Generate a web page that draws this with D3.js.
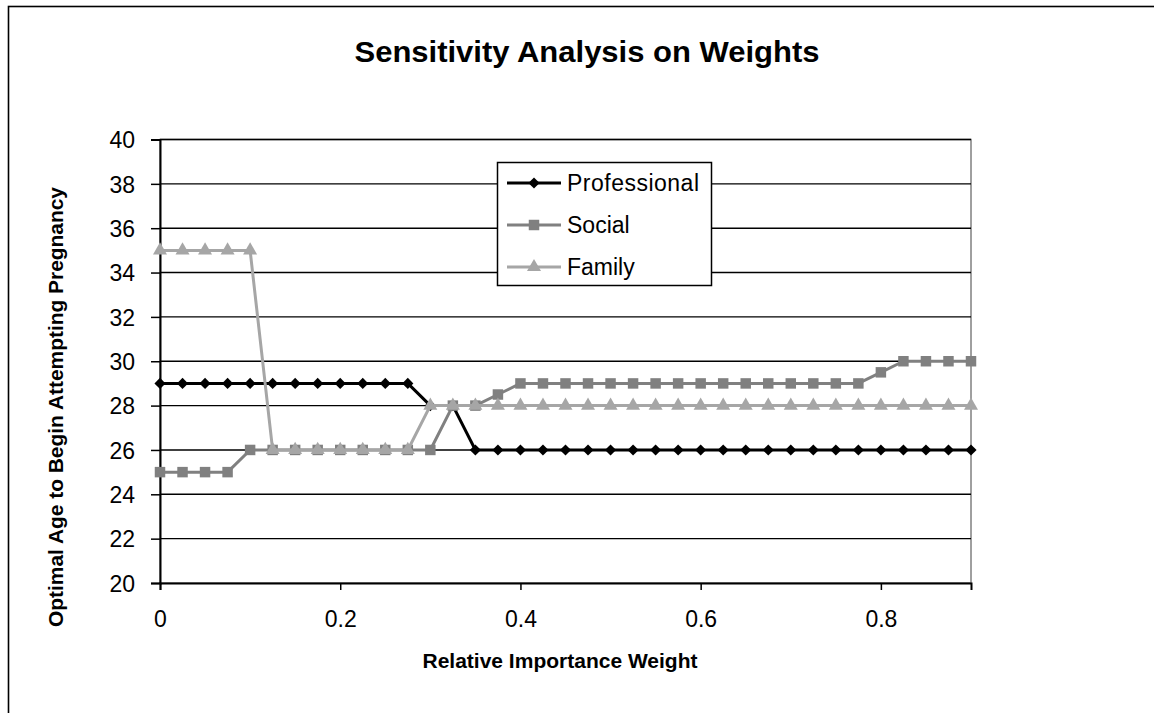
<!DOCTYPE html>
<html>
<head>
<meta charset="utf-8">
<title>Sensitivity Analysis on Weights</title>
<script src="https://cdnjs.cloudflare.com/ajax/libs/d3/7.8.5/d3.min.js"></script>
<style>
  body { margin: 0; background: #fff; }
  text { font-family: "Liberation Sans", Arial, sans-serif; fill: #000; }
</style>
</head>
<body>
<script>
// relative importance weight (x values)
var weights = [0, 0.025, 0.05, 0.075, 0.1, 0.125, 0.15, 0.175, 0.2, 0.225,
  0.25, 0.275, 0.3, 0.325, 0.35, 0.375, 0.4, 0.425, 0.45, 0.475,
  0.5, 0.525, 0.55, 0.575, 0.6, 0.625, 0.65, 0.675, 0.7, 0.725,
  0.75, 0.775, 0.8, 0.825, 0.85, 0.875, 0.9];

var professional = [29, 29, 29, 29, 29, 29, 29, 29, 29, 29,
  29, 29, 28, 28, 26, 26, 26, 26, 26, 26,
  26, 26, 26, 26, 26, 26, 26, 26, 26, 26,
  26, 26, 26, 26, 26, 26, 26];

var social = [25, 25, 25, 25, 26, 26, 26, 26, 26, 26,
  26, 26, 26, 28, 28, 28.5, 29, 29, 29, 29,
  29, 29, 29, 29, 29, 29, 29, 29, 29, 29,
  29, 29, 29.5, 30, 30, 30, 30];

var family = [35, 35, 35, 35, 35, 26, 26, 26, 26, 26,
  26, 26, 28, 28, 28, 28, 28, 28, 28, 28,
  28, 28, 28, 28, 28, 28, 28, 28, 28, 28,
  28, 28, 28, 28, 28, 28, 28];

var xTicks = [0, 0.2, 0.4, 0.6, 0.8];
var yTicks = [20, 22, 24, 26, 28, 30, 32, 34, 36, 38, 40];

// excel style diamond: a square turned 45 degrees
var diamond = {
  draw: function(ctx, size) {
    var r = Math.sqrt(size / 2);
    ctx.moveTo(0, -r);
    ctx.lineTo(r, 0);
    ctx.lineTo(0, r);
    ctx.lineTo(-r, 0);
    ctx.closePath();
  }
};

var series = [
  { name: "Professional", values: professional, color: "#000000", symbol: diamond, size: 62 },
  { name: "Social", values: social, color: "#808080", symbol: d3.symbolSquare, size: 110 },
  { name: "Family", values: family, color: "#a6a6a6", symbol: d3.symbolTriangle, size: 85 }
];

var W = 1154, H = 713;
var plotL = 160, plotR = 971, plotT = 139.5, plotB = 583;

var svg = d3.select("body").append("svg")
    .attr("width", W)
    .attr("height", H);

// chart area frame
svg.append("rect")
    .attr("x", 8.5).attr("y", 6.5)
    .attr("width", W + 20).attr("height", H + 20)
    .attr("fill", "#fff")
    .attr("stroke", "#000")
    .attr("stroke-width", 1.6);

var x = d3.scaleLinear().domain([0, 0.9]).range([plotL, plotR]);
var y = d3.scaleLinear().domain([20, 40]).range([plotB, plotT]);

// plot area border
svg.append("rect")
    .attr("x", plotL).attr("y", plotT)
    .attr("width", plotR - plotL).attr("height", plotB - plotT)
    .attr("fill", "none")
    .attr("stroke", "#808080")
    .attr("stroke-width", 1.5);

// gridlines
svg.append("g")
    .selectAll("line")
    .data(yTicks.filter(function(d) { return d > 20; }))
    .enter().append("line")
    .attr("x1", plotL).attr("x2", plotR)
    .attr("y1", function(d) { return y(d); })
    .attr("y2", function(d) { return y(d); })
    .attr("stroke", "#000")
    .attr("stroke-width", 1.4);

// axes
var yAxis = svg.append("g")
    .attr("transform", "translate(" + plotL + ",0)")
    .call(d3.axisLeft(y).tickValues(yTicks).tickSize(9).tickPadding(16).tickFormat(d3.format("d")));

var xAxis = svg.append("g")
    .attr("transform", "translate(0," + plotB + ")")
    .call(d3.axisBottom(x).tickValues(xTicks).tickSize(7).tickPadding(21).tickFormat(function(d) { return d === 0 ? "0" : d3.format(".1f")(d); }));

[yAxis, xAxis].forEach(function(a) {
  a.select(".domain").attr("stroke", "#000").attr("stroke-width", 2);
  a.selectAll(".tick line").attr("stroke", "#000").attr("stroke-width", 1.5);
  a.selectAll(".tick text")
      .style("font-family", "'Liberation Sans', Arial, sans-serif")
      .style("font-size", "23px")
      .attr("fill", "#000");
});
yAxis.selectAll(".tick text").attr("dy", "0.36em");

// series lines and markers
var line = d3.line()
    .x(function(d, i) { return x(weights[i]); })
    .y(function(d) { return y(d); });

series.forEach(function(s) {
  svg.append("path")
      .datum(s.values)
      .attr("d", line)
      .attr("fill", "none")
      .attr("stroke", s.color)
      .attr("stroke-width", 3)
      .attr("stroke-linejoin", "round");

  svg.append("g")
      .selectAll("path")
      .data(s.values)
      .enter().append("path")
      .attr("transform", function(d, i) { return "translate(" + x(weights[i]) + "," + y(d) + ")"; })
      .attr("d", d3.symbol().type(s.symbol).size(s.size))
      .attr("fill", s.color);
});

// legend
var legend = svg.append("g");
legend.append("rect")
    .attr("x", 497.5).attr("y", 162.5)
    .attr("width", 214).attr("height", 123)
    .attr("fill", "#fff")
    .attr("stroke", "#000")
    .attr("stroke-width", 1.5);

series.forEach(function(s, i) {
  var ly = 183 + i * 42;
  legend.append("line")
      .attr("x1", 507).attr("x2", 561)
      .attr("y1", ly).attr("y2", ly)
      .attr("stroke", s.color)
      .attr("stroke-width", 3);
  legend.append("path")
      .attr("transform", "translate(534," + ly + ")")
      .attr("d", d3.symbol().type(s.symbol).size(s.size))
      .attr("fill", s.color);
  legend.append("text")
      .attr("x", 567).attr("y", ly)
      .attr("dy", "0.36em")
      .style("font-size", "23px")
      .attr("textLength", i === 0 ? 132 : null)
      .text(s.name);
});

// titles
svg.append("text")
    .attr("x", 587).attr("y", 62)
    .attr("text-anchor", "middle")
    .style("font-size", "30px")
    .style("font-weight", "bold")
    .attr("textLength", 465)
    .attr("lengthAdjust", "spacingAndGlyphs")
    .text("Sensitivity Analysis on Weights");

svg.append("text")
    .attr("x", 560).attr("y", 668)
    .attr("text-anchor", "middle")
    .style("font-size", "20px")
    .style("font-weight", "bold")
    .attr("textLength", 275)
    .attr("lengthAdjust", "spacingAndGlyphs")
    .text("Relative Importance Weight");

svg.append("text")
    .attr("transform", "translate(63,407) rotate(-90)")
    .attr("text-anchor", "middle")
    .style("font-size", "20px")
    .style("font-weight", "bold")
    .attr("textLength", 440)
    .attr("lengthAdjust", "spacingAndGlyphs")
    .text("Optimal Age to Begin Attempting Pregnancy");
</script>
</body>
</html>
